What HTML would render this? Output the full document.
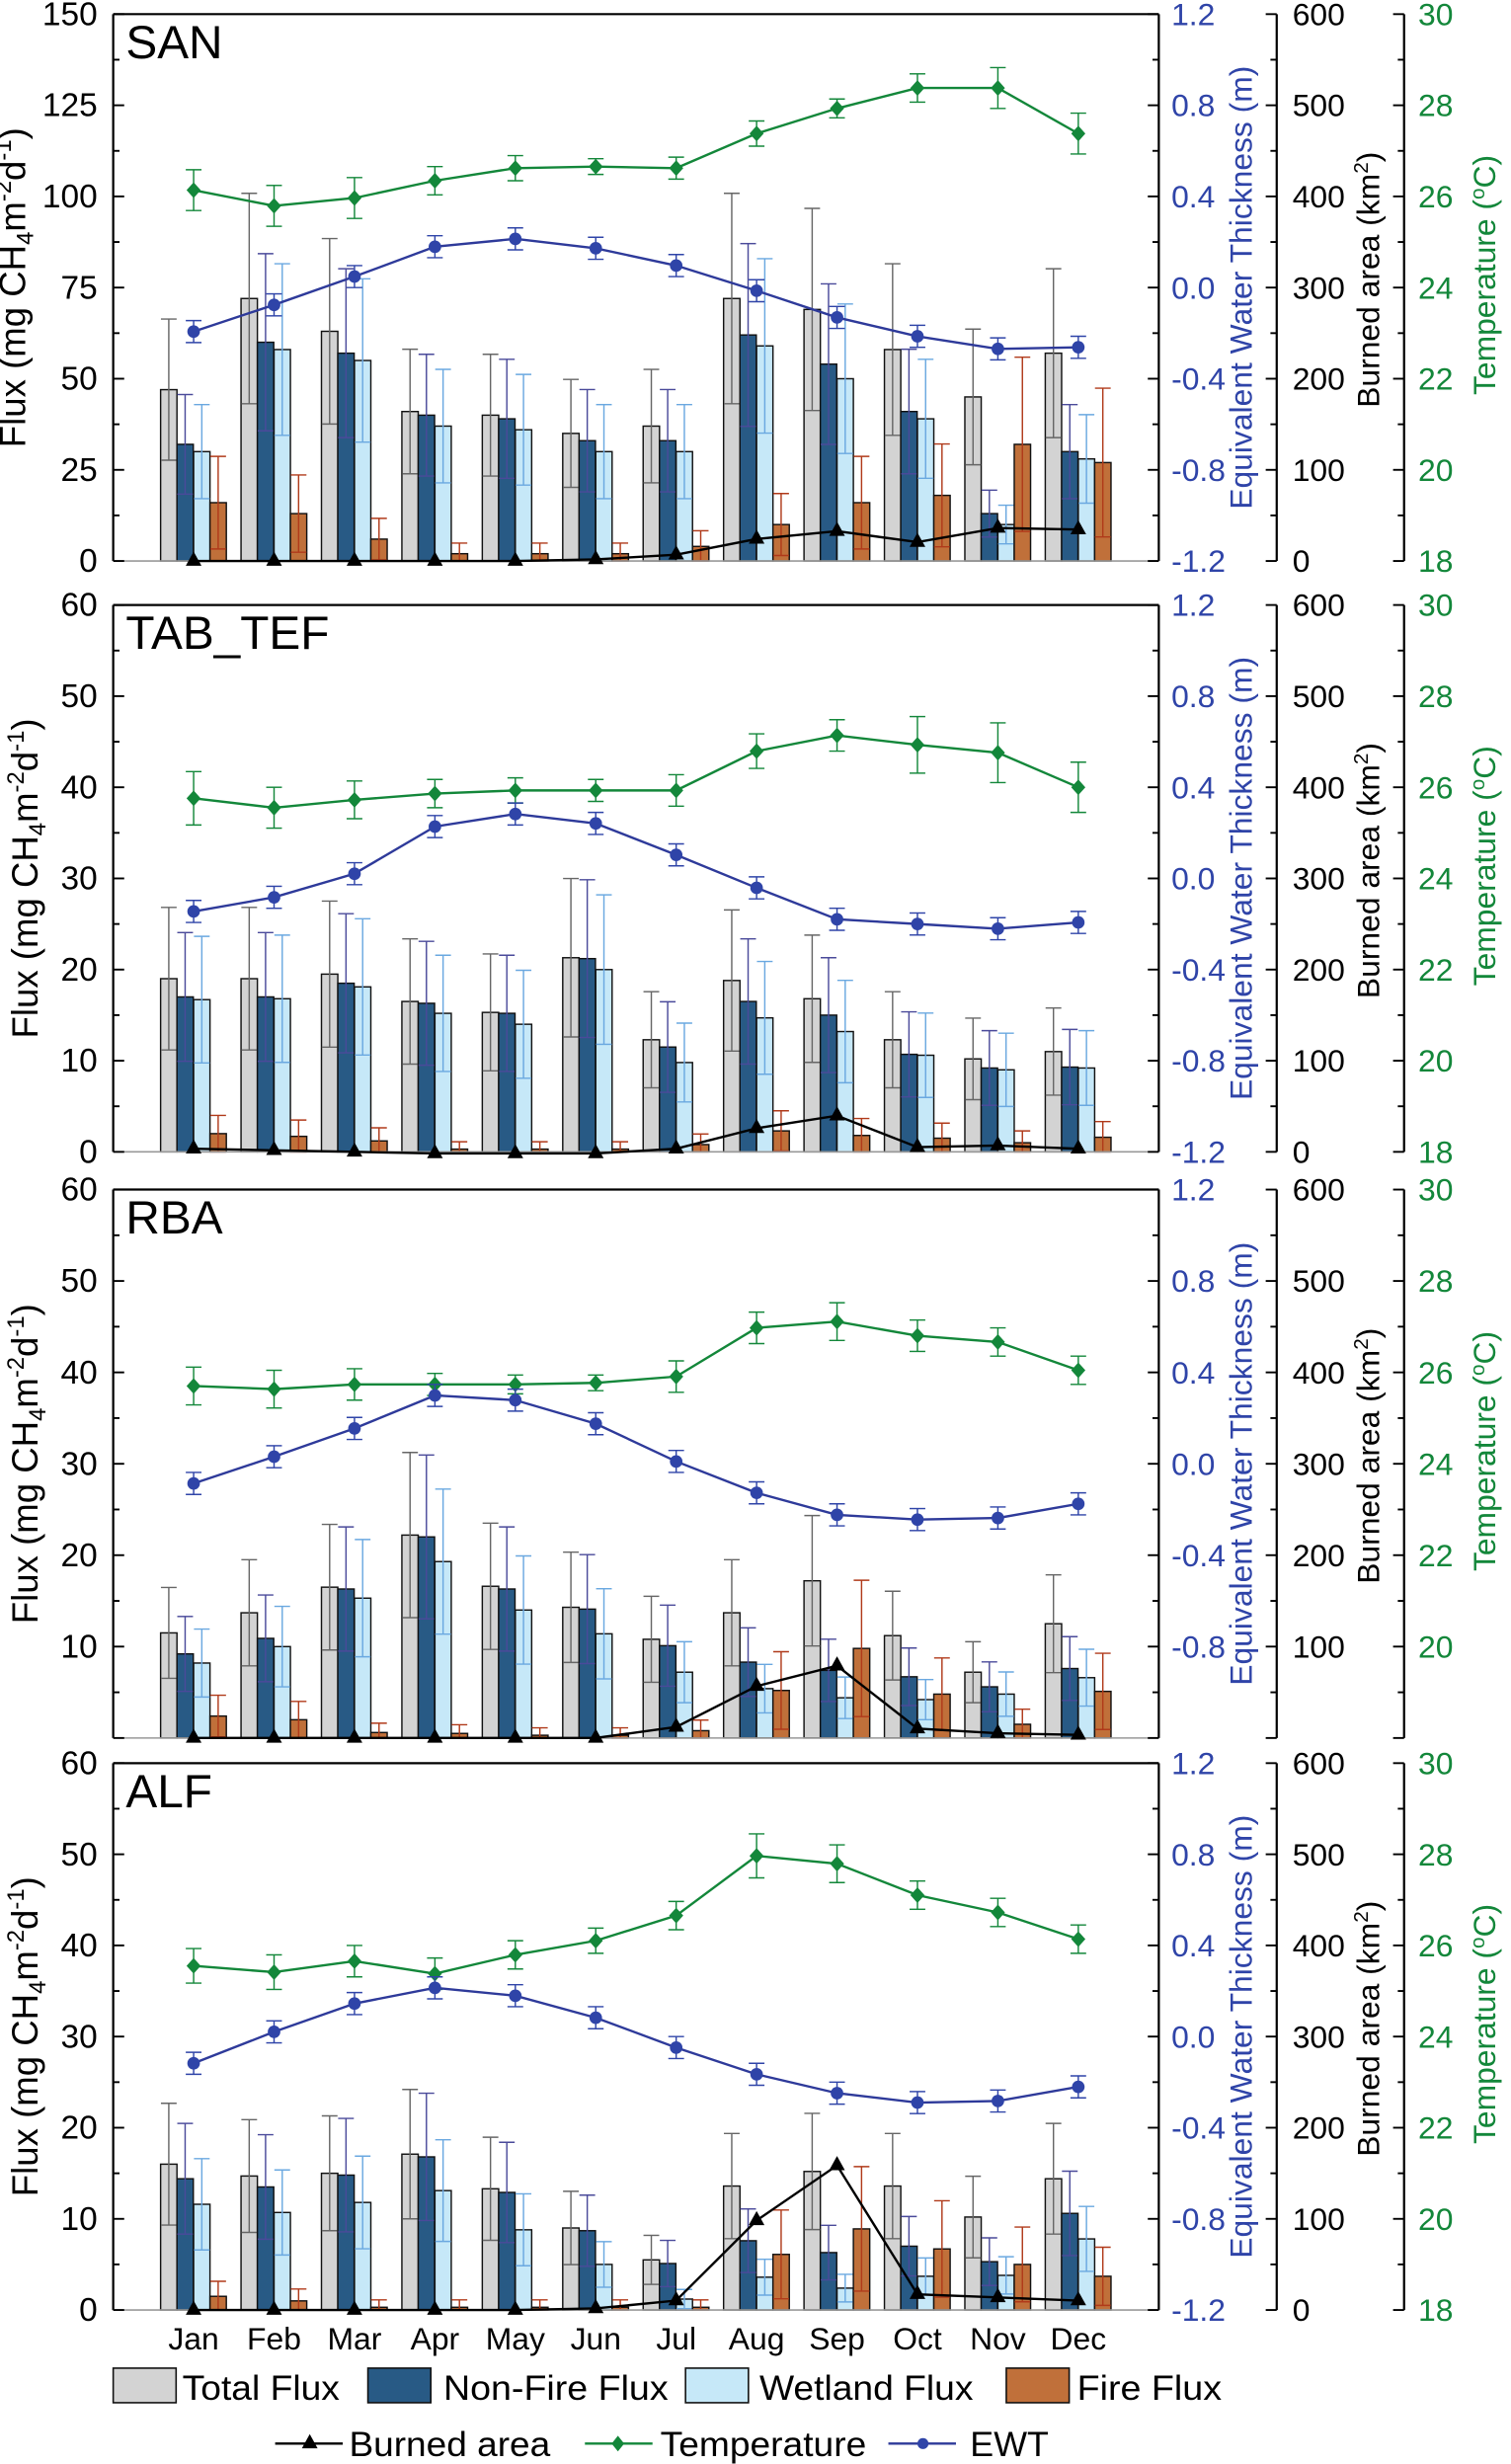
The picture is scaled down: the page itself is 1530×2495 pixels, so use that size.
<!DOCTYPE html>
<html><head><meta charset="utf-8"><style>
html,body{margin:0;padding:0;background:#fff;}
svg{display:block;font-family:"Liberation Sans",Arial,sans-serif;}
</style></head><body>
<svg id="s" width="1530" height="2495" viewBox="0 0 961 1568" preserveAspectRatio="none" xmlns="http://www.w3.org/2000/svg"></svg>
<script>
const S=document.getElementById('s');let h='';
const L=72,R=737,BX=812,TX=893;
const cx=i=>L+51.15*(i+1);
const BLUE='#2f44a8',GREEN='#13873a',NAVY='#285a85',LB='#c6e8f8',GR='#d3d3d3',OR='#c0703a';
function t(x,y,s,sz,fill,anchor,extra){h+=`<text x="${x}" y="${y}" font-size="${sz}" fill="${fill||'#000'}" text-anchor="${anchor||'start'}" ${extra||''}>${s}</text>`;}
function ln(x1,y1,x2,y2,c,w){h+=`<line x1="${x1}" y1="${y1}" x2="${x2}" y2="${y2}" stroke="${c}" stroke-width="${w||1}"/>`;}
function eb(x,y1,y2,c){ln(x,y1,x,y2,c,0.9);ln(x-5,y1,x+5,y1,c,0.9);ln(x-5,y2,x+5,y2,c,0.9);}
function panel(top,bot,max,step,name,d,leftTitleX,noZero){
 const H=bot-top,yv=v=>bot-v/max*H;
 const offs=[-21,-10.6,0,10.4],cols=[GR,NAVY,LB,OR],ecol=['#666','#4a4a9a','#6aa8e0','#b03a1a'];
 for(let i=0;i<12;i++){const c=cx(i);
  [d.tot,d.non,d.wet,d.fire].forEach((arr,k)=>{const v=arr[i],y=yv(v);
   h+=`<rect x="${c+offs[k]}" y="${y}" width="10.4" height="${bot-y}" fill="${cols[k]}" stroke="#111" stroke-width="0.9"/>`;
   const e=(k==3?0.7:0.38)*v+max*0.01;
   eb(c+offs[k]+5.2,yv(v+e),Math.min(bot,yv(Math.max(0,v-e))),ecol[k]);});
 }
 ln(L,top,R,top,'#000',1.4);ln(L,top,L,bot,'#000',1.4);ln(R,top,R,bot,'#000',1.4);ln(L,bot,R,bot,'#999',1);
 for(let v=0;v<=max+1e-9;v+=step/2){const y=yv(v);const maj=Math.abs(v/step-Math.round(v/step))<1e-6;
  ln(L,y,L+(maj?7:4),y,'#000',1.2);if(maj&&!(noZero&&v==0))t(62,y+7,v,21,'#000','end');}
 for(let k=0;k<=12;k++){const y=bot-k*H/12;ln(R-(k%2?4:7),y,R,y,'#000',1.2);
  if(k%2==0&&!(noZero&&k==0)){const v=(-1.2+k*0.2);t(745,y+7,v.toFixed(1),20,BLUE);}}
 ln(BX,top,BX,bot,'#000',1.4);ln(TX,top,TX,bot,'#000',1.4);
 for(let k=0;k<=12;k++){const y=bot-k*H/12;ln(BX-(k%2?4:7),y,BX,y,'#000',1.2);ln(TX-(k%2?4:7),y,TX,y,'#000',1.2);
  if(k%2==0&&!(noZero&&k==0)){t(822,y+7,k*50,20,'#000');t(902,y+7,18+k,20,GREEN);}}
 const m=(top+bot)/2;
 t(0,0,'Equivalent Water Thickness (m)',20,BLUE,'middle',`transform="translate(796,${m}) rotate(-90)"`);
 t(0,0,'Burned area (km<tspan dy="-7" font-size="13">2</tspan><tspan dy="7">)</tspan>',20,'#000','middle',`transform="translate(877,${m-5}) rotate(-90)"`);
 t(0,0,'Temperature (<tspan dy="-7" font-size="13">o</tspan><tspan dy="7">C)</tspan>',20,GREEN,'middle',`transform="translate(951,${m-8}) rotate(-90)"`);
 t(0,0,'Flux (mg CH<tspan dy="5" font-size="15">4</tspan><tspan dy="-5">m</tspan><tspan dy="-9" font-size="15">-2</tspan><tspan dy="9">d</tspan><tspan dy="-9" font-size="15">-1</tspan><tspan dy="9">)</tspan>',23,'#000','middle',`transform="translate(${leftTitleX},${m}) rotate(-90)"`);
 t(L+8,top+28,name,30,'#000','start');
 const line=(ys,c)=>{h+=`<polyline fill="none" stroke="${c}" stroke-width="1.5" points="${ys.map((y,i)=>cx(i)+','+y).join(' ')}"/>`;};
 d.temp.forEach((y,i)=>eb(cx(i),y-(d.te?d.te[i]:9),y+(d.te?d.te[i]:9),GREEN));
 line(d.temp,GREEN);
 d.temp.forEach((y,i)=>{const c=cx(i);h+=`<polygon points="${c},${y-5} ${c+4.5},${y} ${c},${y+5} ${c-4.5},${y}" fill="${GREEN}"/>`;});
 d.ewt.forEach((y,i)=>eb(cx(i),y-7,y+7,BLUE));
 line(d.ewt,'#2e3a9a');
 d.ewt.forEach((y,i)=>{h+=`<circle cx="${cx(i)}" cy="${y}" r="4" fill="${BLUE}"/>`;});
 line(d.burn,'#000');
 d.burn.forEach((y,i)=>{const c=cx(i);h+=`<polygon points="${c},${y-6} ${c+5},${y+3} ${c-5},${y+3}" fill="#000"/>`;});
}
panel(9,357,150,25,'SAN',{
 tot:[47,72,63,41,40,35,37,72,69,58,45,57],non:[32,60,57,40,39,33,33,62,54,41,13,30],
 wet:[30,58,55,37,36,30,30,59,50,39,10,28],fire:[16,13,6,2,2,2,4,10,16,18,32,27],
 temp:[121,131,126,115,107,106,107,85,69,56,56,85],te:[13,13,13,9,8,5,7,8,6,9,13,13],
 ewt:[211,194,176,157,152,158,169,185,202,214,222,221],
 burn:[357,357,357,357,357,356,353,343,338,345,336,337]},16);
panel(385,733,60,10,'TAB_TEF',{
 tot:[19,19,19.5,16.5,15.3,21.3,12.3,18.8,16.8,12.3,10.2,11],non:[17,17,18.5,16.3,15.2,21.2,11.5,16.5,15,10.7,9.2,9.3],
 wet:[16.7,16.8,18.1,15.2,14,20,9.8,14.7,13.2,10.6,9,9.2],fire:[2,1.7,1.2,0.3,0.3,0.3,0.8,2.3,1.8,1.5,1,1.6],
 temp:[508,514,509,505,503,503,503,478,468,474,479,501],te:[17,13,12,9,8,7,10,11,10,18,19,16],
 ewt:[580,571,556,526,518,524,544,565,585,588,591,587],
 burn:[731,732,733,734,734,734,731,718,710,730,729,731]},24);
panel(757,1106,60,10,'RBA',{
 tot:[11.5,13.7,16.5,22.2,16.6,14.3,10.8,13.7,17.2,11.2,7.2,12.5],non:[9.2,10.9,16.3,22,16.3,14.1,10.1,8.3,7.4,6.7,5.6,7.6],
 wet:[8.2,10,15.3,19.3,14,11.4,7.2,5.4,4.4,4.2,4.8,6.6],fire:[2.4,2,0.6,0.5,0.3,0.3,0.8,5.2,9.8,4.8,1.5,5.1],
 temp:[882,884,881,881,881,880,876,845,841,850,854,872],te:[12,12,10,7,6,5,10,10,12,10,9,9],
 ewt:[944,927,909,888,891,906,930,950,964,967,966,957],
 burn:[1106,1106,1106,1106,1106,1106,1099,1073,1060,1100,1103,1104]},24,true);
panel(1122,1470,60,10,'ALF',{
 tot:[16,14.7,15,17.1,13.3,9,5.5,13.6,15.2,13.6,10.2,14.4],non:[14.4,13.5,14.8,16.8,12.9,8.7,5.1,7.6,6.3,7,5.3,10.6],
 wet:[11.6,10.7,11.8,13.1,8.8,5,1.2,3.6,2.4,3.7,3.8,7.8],fire:[1.5,1,0.3,0.3,0.3,0.3,0.3,6.1,8.9,6.7,5,3.7],
 temp:[1251,1255,1248,1256,1244,1235,1219,1181,1186,1206,1217,1234],te:[11,11,10,10,9,8,9,14,12,9,9,9],
 ewt:[1313,1293,1275,1265,1270,1284,1303,1320,1332,1338,1337,1328],
 burn:[1470,1470,1470,1470,1470,1469,1464,1413,1378,1460,1462,1464]},24);
['Jan','Feb','Mar','Apr','May','Jun','Jul','Aug','Sep','Oct','Nov','Dec'].forEach((m,i)=>t(cx(i),1495,m,20,'#000','middle'));
[[72,GR,116,'Total Flux',100],[234,NAVY,282,'Non-Fire Flux',143],[436,LB,483,'Wetland Flux',136],[640,OR,685,'Fire Flux',92]].forEach(a=>{
 h+=`<rect x="${a[0]}" y="1507" width="40" height="22" fill="${a[1]}" stroke="#111" stroke-width="1"/>`;
 t(a[2],1527,a[3],22,'#000','start',`textLength="${a[4]}" lengthAdjust="spacingAndGlyphs"`);});
ln(175,1555,218,1555,'#000',1.5);h+=`<polygon points="197,1549 202,1558 192,1558" fill="#000"/>`;
t(222,1563,'Burned area',22,'#000','start','textLength="128" lengthAdjust="spacingAndGlyphs"');
ln(372,1555,415,1555,GREEN,1.5);h+=`<polygon points="393,1550 397,1555 393,1560 389,1555" fill="${GREEN}"/>`;
t(420,1563,'Temperature',22,'#000','start','textLength="131" lengthAdjust="spacingAndGlyphs"');
ln(565,1555,608,1555,'#2e3a9a',1.5);h+=`<circle cx="587" cy="1555" r="3.5" fill="${BLUE}"/>`;
t(617,1563,'EWT',22,'#000','start','textLength="50" lengthAdjust="spacingAndGlyphs"');
S.innerHTML=h;
</script>
</body></html>
